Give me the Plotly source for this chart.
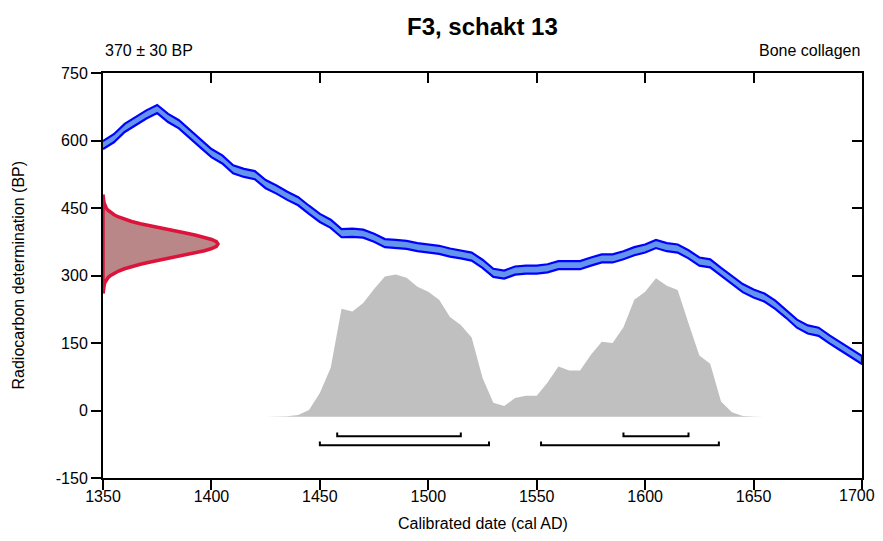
import plotly.graph_objects as go

# ---------------- data ----------------
title_text = "F3, schakt 13"
left_note = "370 ± 30 BP"
right_note = "Bone collagen"

# Calibration curve (centre, BP) every 5 years 1350..1700
curve_years = list(range(1350, 1701, 5))
curve_bp = [590, 605, 628, 643, 658, 670, 650, 636, 614, 593,
            572, 558, 536, 528, 523, 503, 491, 477, 465, 446,
            428, 415, 394, 395, 393, 384, 372, 370, 368, 363,
            360, 357, 351, 347, 342, 326, 306, 302, 311, 313,
            313, 316, 323, 323, 323, 331, 338, 338, 345, 354,
            360, 370, 363, 360, 347, 331, 327, 308, 290, 272,
            260, 251, 235, 215, 193, 180, 175, 158, 143, 128, 112]
curve_err = 9  # half-width of the band (BP)

# Radiocarbon measurement distribution (BP levels and plotted width in years)
meas_bp = [260, 265, 270, 275, 280, 285, 290, 295, 300, 305, 310, 315, 320, 325,
           330, 335, 340, 345, 350, 355, 360, 365, 370, 375, 380, 385, 390, 395,
           400, 405, 410, 415, 420, 425, 430, 435, 440, 445, 450, 455, 460, 465,
           470, 475, 480]
meas_w = [0.05, 0.12, 0.2, 0.35, 0.6, 0.96, 1.5, 2.3, 3.5, 5.1, 7.2, 9.9, 13.2, 17.2,
          21.8, 26.8, 32.1, 37.5, 42.4, 46.8, 50.1, 52.3, 53.0, 52.3, 50.1, 46.8, 42.4, 37.5,
          32.1, 26.8, 21.8, 17.2, 13.2, 9.9, 7.2, 5.1, 3.5, 2.3, 1.5, 0.96, 0.6, 0.35,
          0.2, 0.12, 0.05]

# Calibrated probability distribution (height in BP units above its baseline)
cal_years = list(range(1425, 1656, 5))
cal_h = [0, 0.5, 1.5, 4, 15, 53, 109, 240, 234, 253,
         284, 312, 316, 309, 289, 278, 260, 222, 204, 176,
         87, 31, 24, 42, 47, 47, 76, 112, 103, 103,
         138, 167, 164, 199, 260, 278, 308, 291, 282, 208,
         136, 118, 34, 10, 2, 0.5, 0]
cal_base = -14

# Highest probability ranges
range68 = [(1458, 1515), (1590, 1620)]
range95 = [(1450, 1528), (1552, 1634)]
y68, y95, bracket_tick = -57, -77, 8

x_ticks = list(range(1350, 1701, 50))
x_tick_text = [str(v) for v in x_ticks]
y_ticks = [-150, 0, 150, 300, 450, 600, 750]
y_tick_text = ["-150", "0", "150", "300", "450", "600", "750"]

# ---------------- figure ----------------
FONT = "Liberation Sans, Arial, sans-serif"
fig = go.Figure()

# calibrated distribution (grey)
fig.add_trace(go.Scatter(
    x=cal_years + cal_years[::-1],
    y=[cal_base + h for h in cal_h] + [cal_base] * len(cal_years),
    fill="toself", fillcolor="rgb(192,192,192)", mode="lines",
    line=dict(width=0, color="rgb(192,192,192)"),
    hoverinfo="skip", showlegend=False))

# calibration curve band
upper = [v + curve_err for v in curve_bp]
lower = [v - curve_err for v in curve_bp]
fig.add_trace(go.Scatter(
    x=curve_years + curve_years[::-1],
    y=upper + lower[::-1],
    fill="toself", fillcolor="rgb(100,149,237)", mode="lines",
    line=dict(width=2.2, color="rgb(0,0,255)"),
    hoverinfo="skip", showlegend=False))

# measurement distribution (red)
fig.add_trace(go.Scatter(
    x=[1350 + w for w in meas_w] + [1350, 1350],
    y=meas_bp + [meas_bp[-1], meas_bp[0]],
    fill="toself", fillcolor="rgb(185,135,135)", mode="lines",
    line=dict(width=3.5, color="rgb(220,20,60)"),
    hoverinfo="skip", showlegend=False))

# range brackets
for ranges, yy in ((range68, y68), (range95, y95)):
    for a, b in ranges:
        fig.add_trace(go.Scatter(
            x=[a, a, b, b], y=[yy + bracket_tick, yy, yy, yy + bracket_tick],
            mode="lines", line=dict(color="black", width=2),
            hoverinfo="skip", showlegend=False))

# invisible trace for the mirrored inside-tick axes
fig.add_trace(go.Scatter(x=[1350], y=[0], xaxis="x2", yaxis="y2", mode="markers",
                         marker=dict(opacity=0), hoverinfo="skip", showlegend=False))

# the last x tick label would overflow the page edge, so it is placed as an
# annotation nudged inward; the axis shows the others
axis_tick_text = x_tick_text[:-1] + [""]

# the page body has an 8px margin, so the figure is sized to fit inside the window
fig.update_layout(
    width=867, height=525,
    margin=dict(l=95, r=13, t=65, b=55),
    plot_bgcolor="white", paper_bgcolor="white",
    font=dict(family=FONT, size=16, color="black"),
    xaxis=dict(range=[1350, 1700], tickvals=x_ticks, ticktext=axis_tick_text,
               ticks="outside", ticklen=10, ticklabelstandoff=-7,
               tickwidth=2, tickcolor="black", showline=True, linewidth=2,
               linecolor="black", mirror=True, showgrid=False, zeroline=False,
               layer="below traces", tickfont=dict(size=16)),
    yaxis=dict(range=[-150, 750], tickvals=y_ticks, ticktext=y_tick_text,
               ticks="outside", ticklen=10, tickwidth=2, tickcolor="black",
               showline=True, linewidth=2, linecolor="black", mirror=True,
               showgrid=False, zeroline=False, layer="below traces",
               tickfont=dict(size=16)),
    xaxis2=dict(range=[1350, 1700], overlaying="x", side="top", tickvals=x_ticks,
                ticks="inside", ticklen=10, tickwidth=2, tickcolor="black",
                showticklabels=False, showline=False, showgrid=False, zeroline=False),
    yaxis2=dict(range=[-150, 750], overlaying="y", side="right", tickvals=y_ticks,
                ticks="inside", ticklen=10, tickwidth=2, tickcolor="black",
                showticklabels=False, showline=False, showgrid=False, zeroline=False),
    annotations=[
        dict(text="<b>" + title_text + "</b>", xref="paper", yref="paper",
             x=0.5, y=(478 - 27) / 405, xanchor="center", yanchor="middle",
             showarrow=False, font=dict(size=24, family=FONT)),
        dict(text=left_note, xref="paper", yref="paper", x=0, y=(478 - 50) / 405,
             xanchor="left", yanchor="middle", showarrow=False, font=dict(size=16)),
        dict(text=right_note, xref="paper", yref="paper", x=1, y=(478 - 50) / 405,
             xanchor="right", yanchor="middle", showarrow=False, font=dict(size=16)),
        dict(text=x_tick_text[-1], xref="x", yref="paper", x=x_ticks[-1],
             y=(478 - 495) / 405, xanchor="center", yanchor="middle", xshift=-5,
             showarrow=False, font=dict(size=16)),
        dict(text="Calibrated date (cal AD)", xref="paper", yref="paper",
             x=0.5, y=(478 - 523) / 405, xanchor="center", yanchor="middle",
             showarrow=False, font=dict(size=16)),
        dict(text="Radiocarbon determination (BP)", xref="paper", yref="paper",
             x=(18 - 103) / 759, y=0.5, xanchor="center", yanchor="middle",
             textangle=-90, showarrow=False, font=dict(size=16)),
    ],
)

fig.write_html("out.html")
